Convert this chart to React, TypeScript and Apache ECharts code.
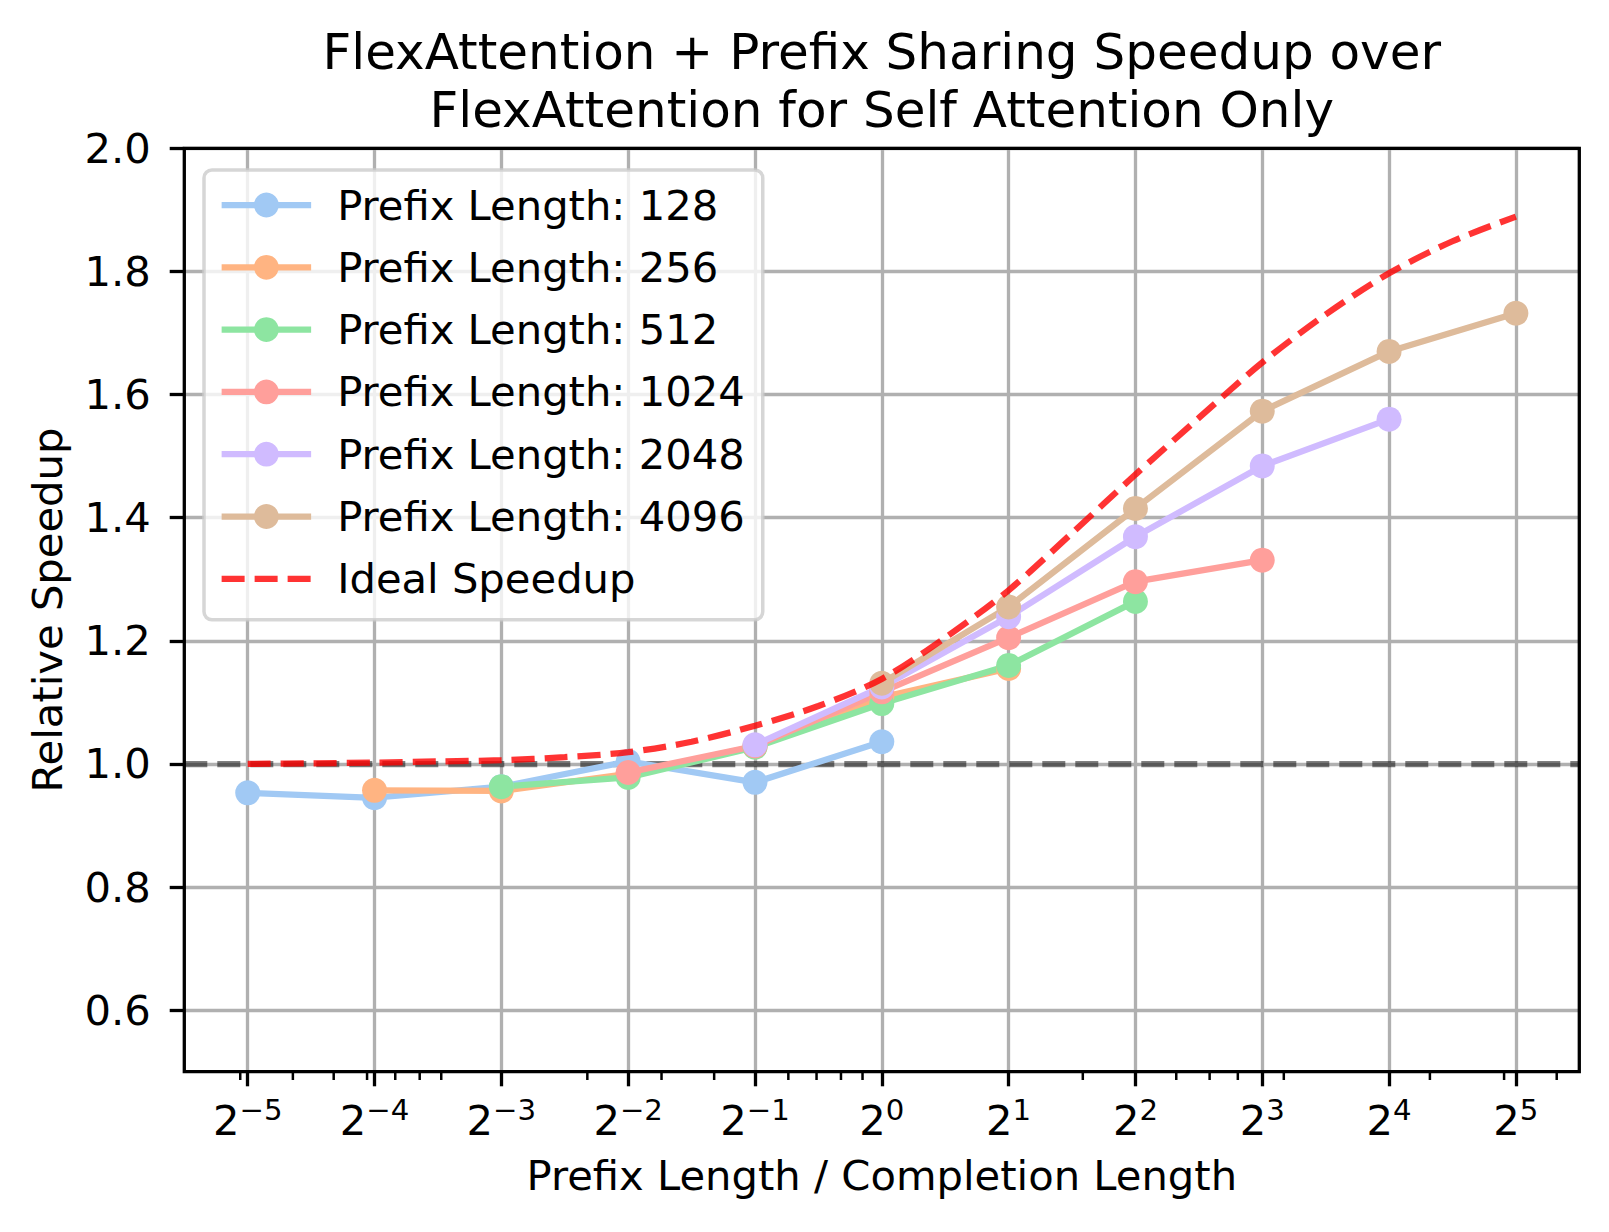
import React, { useEffect, useRef } from "react";
import * as echarts from "echarts";

// ---- Data (x = exponent of 2 for "Prefix Length / Completion Length") ----
const majorXExps = [-5, -4, -3, -2, -1, 0, 1, 2, 3, 4, 5];
const yTicks = [0.6, 0.8, 1.0, 1.2, 1.4, 1.6, 1.8, 2.0];
const minorTickRatios = [0.03, 0.04, 0.05, 0.06, 0.07, 0.08, 0.09, 0.2, 0.3, 0.4, 0.6, 0.7, 0.8, 0.9, 3, 5, 6, 7, 9, 20, 30, 40];

const x128 = [-5, -4, -3, -2, -1, 0];
const y128 = [0.953, 0.945, 0.963, 1.004, 0.970, 1.036];
const x256 = [-4, -3, -2, -1, 0, 1];
const y256 = [0.957, 0.956, 0.984, 1.028, 1.108, 1.155];
const x512 = [-3, -2, -1, 0, 1, 2];
const y512 = [0.963, 0.978, 1.027, 1.098, 1.160, 1.264];
const x1024 = [-2, -1, 0, 1, 2, 3];
const y1024 = [0.986, 1.029, 1.117, 1.205, 1.296, 1.331];
const x2048 = [-1, 0, 1, 2, 3, 4];
const y2048 = [1.031, 1.125, 1.239, 1.369, 1.484, 1.560];
const x4096 = [0, 1, 2, 3, 4, 5];
const y4096 = [1.131, 1.255, 1.415, 1.573, 1.670, 1.732];

const idealExps = [-5, -4.5, -4, -3.5, -3, -2.5, -2, -1.5, -1, -0.5, 0, 0.5, 1, 1.5, 2, 2.5, 3, 3.5, 4, 4.5, 5];
const idealVals = [1.0, 1.001, 1.002, 1.004, 1.006, 1.011, 1.019, 1.036, 1.062, 1.094, 1.138, 1.205, 1.282, 1.375, 1.47, 1.562, 1.652, 1.73, 1.797, 1.849, 1.889];

const seriesNames = [
  "Prefix Length: 128",
  "Prefix Length: 256",
  "Prefix Length: 512",
  "Prefix Length: 1024",
  "Prefix Length: 2048",
  "Prefix Length: 4096",
];
const seriesX = [x128, x256, x512, x1024, x2048, x4096];
const seriesY = [y128, y256, y512, y1024, y2048, y4096];
const colors = ["#a1c9f4", "#ffb482", "#8de5a1", "#ff9f9b", "#d0bbff", "#debb9b"];
const idealName = "Ideal Speedup";

const titleLines = ["FlexAttention + Prefix Sharing Speedup over", "FlexAttention for Self Attention Only"];

const FONT = "DejaVu Sans";
const FS = 41.7;

export default function App() {
  const ref = useRef<HTMLDivElement>(null);
  useEffect(() => {
    document.body.style.margin = "0";
    const chart = echarts.init(ref.current!, null, { renderer: "svg" });
    const gridLeft = 184.3;
    const gridTop = 148.3;
    const gridW = 1395;
    const gridH = 923.4;
    const cx = gridLeft + gridW / 2;

    const supText = (v: number) => (v < 0 ? "\u2212" + Math.abs(v) : String(v));

    const lineSeries: any[] = seriesNames.map((name, i) => ({
      name,
      type: "line",
      data: seriesX[i].map((x, j) => [x, seriesY[i][j]]),
      symbol: "circle",
      symbolSize: 25,
      showSymbol: true,
      lineStyle: { width: 6.25, color: colors[i] },
      itemStyle: { color: colors[i] },
      color: colors[i],
      z: 3,
      silent: true,
    }));

    const option: any = {
      animation: false,
      textStyle: { fontFamily: FONT },
      grid: {
        left: gridLeft,
        top: gridTop,
        width: gridW,
        height: gridH,
        containLabel: false,
        outerBoundsMode: "none",
        show: true,
        borderColor: "#000",
        borderWidth: 3.3,
        backgroundColor: "transparent",
        z: 10,
      },
      graphic: titleLines.map((t, i) => ({
        type: "text",
        x: cx,
        y: 51.5 + i * 58.3,
        silent: true,
        style: {
          text: t,
          fontSize: 50,
          fontFamily: FONT,
          fill: "#000",
          align: "center",
          verticalAlign: "middle",
        },
      })),
      legend: {
        orient: "vertical",
        left: 204,
        top: 170,
        padding: [14, 18, 20, 14.5],
        itemWidth: 89.5,
        itemHeight: 31,
        itemGap: 20.3,
        data: [
          ...seriesNames,
          { name: idealName, itemStyle: { opacity: 0 } },
        ],
        backgroundColor: "rgba(255,255,255,0.8)",
        borderColor: "rgba(204,204,204,0.8)",
        borderWidth: 3.5,
        borderRadius: 8,
        lineStyle: { width: 6.25 },
        textStyle: {
          fontSize: FS,
          fontFamily: FONT,
          color: "#000",
          padding: [0, 0, 0, 21],
        },
        selectedMode: false,
        z: 20,
      },
      xAxis: {
        type: "value",
        min: -5.5,
        max: 5.5,
        splitNumber: 11,
        minInterval: 1,
        maxInterval: 1,
        axisLine: { show: false, onZero: false },
        axisTick: {
          show: true,
          customValues: majorXExps,
          length: 14.6,
          lineStyle: { color: "#000", width: 3.3 },
        },
        axisLabel: {
          customValues: majorXExps,
          margin: 24,
          formatter: (v: number) => (Number.isInteger(v) ? `{b|2}{s|${supText(v)}}` : ""),
          rich: {
            b: { fontSize: FS, lineHeight: 50, fontFamily: FONT, color: "#000" },
            s: { fontSize: 29.2, lineHeight: 29.2, fontFamily: FONT, color: "#000", verticalAlign: "top" },
          },
        },
        splitLine: { show: true, lineStyle: { color: "#b0b0b0", width: 3.3 } },
        name: "Prefix Length / Completion Length",
        nameLocation: "middle",
        nameGap: 83,
        nameTextStyle: { fontSize: FS, fontFamily: FONT, color: "#000" },
      },
      yAxis: {
        type: "value",
        min: 0.5,
        max: 2.0,
        splitNumber: 7,
        minInterval: 0.2,
        maxInterval: 0.2,
        axisLine: { show: false, onZero: false },
        axisTick: {
          show: true,
          customValues: yTicks,
          length: 14.6,
          lineStyle: { color: "#000", width: 3.3 },
        },
        axisLabel: {
          customValues: yTicks,
          margin: 33.6,
          fontSize: FS,
          fontFamily: FONT,
          color: "#000",
          formatter: (v: number) => (v < 0.55 ? "" : v.toFixed(1)),
        },
        splitLine: { show: true, lineStyle: { color: "#b0b0b0", width: 3.3 } },
        name: "Relative Speedup",
        nameLocation: "middle",
        nameGap: 116,
        nameTextStyle: { fontSize: FS, fontFamily: FONT, color: "#000" },
      },
      series: [
        {
          name: "baseline",
          type: "line",
          data: [],
          z: 2,
          silent: true,
          markLine: {
            silent: true,
            symbol: ["none", "none"],
            label: { show: false },
            lineStyle: { color: "rgba(0,0,0,0.5)", width: 6.25, type: [23, 10] },
            data: [{ yAxis: 1 }],
            z: 2,
          },
        },
        ...lineSeries,
        {
          name: idealName,
          type: "line",
          data: idealExps.map((x, j) => [x, idealVals[j]]),
          symbol: "none",
          showSymbol: false,
          smooth: 0.3,
          lineStyle: { width: 6.25, color: "rgba(255,0,0,0.8)", type: [23, 10] },
          itemStyle: { color: "rgba(255,0,0,0.8)" },
          color: "rgba(255,0,0,0.8)",
          z: 4,
          silent: true,
        },
        {
          name: "minorTicks",
          type: "custom",
          silent: true,
          clip: false,
          z: 11,
          data: minorTickRatios.map((r) => [Math.log2(r), 0.5]),
          encode: { x: 0, y: 1 },
          renderItem: (_params: any, api: any) => {
            const p = api.coord([api.value(0), api.value(1)]);
            return {
              type: "line",
              shape: { x1: p[0], y1: p[1], x2: p[0], y2: p[1] + 8.3 },
              style: { stroke: "#000", lineWidth: 2.5 },
            };
          },
        },
      ],
    };
    chart.setOption(option);
    return () => chart.dispose();
  }, []);
  return <div ref={ref} style={{ width: 1609, height: 1232 }} />;
}
